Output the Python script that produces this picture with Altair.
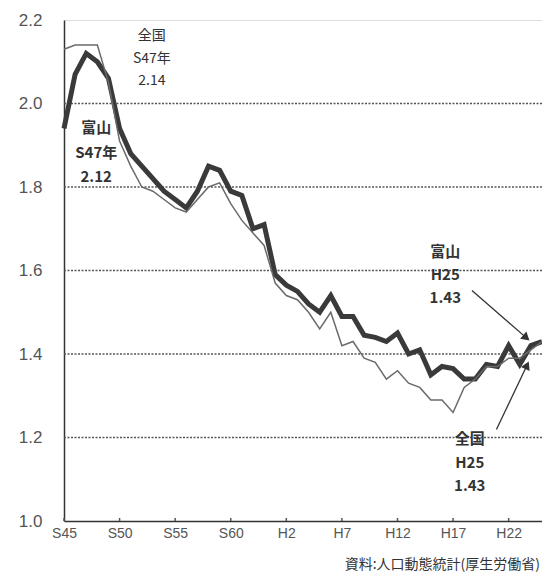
import altair as alt
import pandas as pd

FONT = "Noto Sans CJK JP"
NUMFONT = "Liberation Sans"

years = list(range(1970, 2014))
toyama = [1.94, 2.07, 2.12, 2.10, 2.06, 1.94, 1.88, 1.85, 1.82, 1.79,
          1.77, 1.75, 1.79, 1.85, 1.84, 1.79, 1.78, 1.70, 1.71, 1.59,
          1.565, 1.55, 1.52, 1.50, 1.54, 1.49, 1.49, 1.445, 1.44, 1.43,
          1.45, 1.40, 1.41, 1.35, 1.37, 1.365, 1.34, 1.34, 1.375, 1.37,
          1.42, 1.375, 1.42, 1.43]
zenkoku = [2.13, 2.14, 2.14, 2.14, 2.05, 1.91, 1.85, 1.80, 1.79, 1.77,
           1.75, 1.74, 1.77, 1.80, 1.81, 1.76, 1.72, 1.69, 1.66, 1.57,
           1.54, 1.53, 1.50, 1.46, 1.50, 1.42, 1.43, 1.39, 1.38, 1.34,
           1.36, 1.33, 1.32, 1.29, 1.29, 1.26, 1.32, 1.34, 1.37, 1.37,
           1.39, 1.39, 1.41, 1.43]

tick_years = [1970, 1975, 1980, 1985, 1990, 1995, 2000, 2005, 2010]
tick_labels = ["S45", "S50", "S55", "S60", "H2", "H7", "H12", "H17", "H22"]
grid_values = [1.2, 1.4, 1.6, 1.8, 2.0]
caption = ["資料:人口動態統計(厚生労働省)"]

# annotation texts
ann_text = ["全国", "S47年", "2.14",
            "富山", "S47年", "2.12",
            "富山", "H25", "1.43",
            "全国", "H25", "1.43"]
ann_x = [1977.9, 1977.9, 1977.9,
         1972.9, 1972.9, 1972.9,
         2004.3, 2004.3, 2004.3,
         2006.5, 2006.5, 2006.5]
ann_y = [2.162, 2.107, 2.055,
         1.942, 1.882, 1.825,
         1.644, 1.589, 1.533,
         1.197, 1.138, 1.083]
ann_bold = [False, False, False,
            True, True, True,
            True, True, True,
            True, True, True]

# arrows (from label to line end)
arrow_x1 = [2006.7, 2008.9]
arrow_y1 = [1.552, 1.219]
arrow_x2 = [2011.5, 2011.6]
arrow_y2 = [1.441, 1.37]
arrow_angle = [131, 25]

W, H = 478, 501

df = pd.DataFrame({"year": years, "富山": toyama, "全国": zenkoku})
long = df.melt("year", var_name="area", value_name="tfr")

label_expr = " : ".join(
    f"datum.value == {y} ? '{l}'" for y, l in zip(tick_years, tick_labels)
) + " : ''"

xscale = alt.Scale(domain=[1970, 2013], nice=False, zero=False)
yscale = alt.Scale(domain=[1.0, 2.2], nice=False, zero=False)

base = alt.Chart(long)

grid = alt.Chart(pd.DataFrame({"g": grid_values})).mark_rule(
    color="#555", strokeDash=[2, 1.5], strokeWidth=1.3
).encode(y=alt.Y("g:Q", scale=yscale))

ticks = alt.Chart(pd.DataFrame({"t": tick_years})).mark_rule(
    color="#555", strokeWidth=1.5
).encode(
    x=alt.X("t:Q", scale=xscale),
    y=alt.value(H - 3),
    y2=alt.value(H),
)

lines = base.mark_line(strokeJoin="miter").encode(
    x=alt.X("year:Q", scale=xscale,
            axis=alt.Axis(values=tick_years, labelExpr=label_expr, title=None,
                          grid=False, ticks=False, domainColor="#333",
                          domainWidth=1.5, labelFont=NUMFONT, labelFontSize=14,
                          labelColor="#555", labelPadding=5,
                          labelFlush=False)),
    y=alt.Y("tfr:Q", scale=yscale,
            axis=alt.Axis(values=[1.0, 1.2, 1.4, 1.6, 1.8, 2.0, 2.2],
                          format=".1f", title=None, grid=False, ticks=False,
                          domainColor="#333", domainWidth=1.5,
                          labelFont=NUMFONT, labelFontSize=17, labelColor="#555",
                          labelPadding=22)),
    color=alt.Color("area:N", scale=alt.Scale(domain=["富山", "全国"],
                                               range=["#3a3a3a", "#6a6a6a"]),
                    legend=None),
    strokeWidth=alt.StrokeWidth("area:N", scale=alt.Scale(domain=["富山", "全国"],
                                                            range=[5, 1.5]),
                                legend=None),
    order=alt.Order("year:Q"),
)

ann_df = pd.DataFrame({"text": ann_text, "x": ann_x, "y": ann_y,
                       "bold": ann_bold})
ann_normal = alt.Chart(ann_df[~ann_df["bold"]]).mark_text(
    font=FONT, fontSize=14, color="#333"
).encode(x=alt.X("x:Q", scale=xscale), y=alt.Y("y:Q", scale=yscale),
         text="text:N")
ann_bold_c = alt.Chart(ann_df[ann_df["bold"]]).mark_text(
    font=FONT, fontSize=15, fontWeight="bold", color="#333"
).encode(x=alt.X("x:Q", scale=xscale), y=alt.Y("y:Q", scale=yscale),
         text="text:N")

arr_df = pd.DataFrame({"x1": arrow_x1, "y1": arrow_y1, "x2": arrow_x2,
                       "y2": arrow_y2, "angle": arrow_angle})
arrow_lines = alt.Chart(arr_df).mark_rule(color="#333", strokeWidth=1.3).encode(
    x=alt.X("x1:Q", scale=xscale), y=alt.Y("y1:Q", scale=yscale),
    x2="x2:Q", y2="y2:Q")
arrow_heads = alt.Chart(arr_df).mark_point(
    shape="triangle", filled=True, color="#333", size=90, opacity=1
).encode(x=alt.X("x2:Q", scale=xscale), y=alt.Y("y2:Q", scale=yscale),
         angle=alt.Angle("angle:Q", scale=None))

cap = alt.Chart(pd.DataFrame({"c": caption})).mark_text(
    font=FONT, fontSize=14, color="#333", align="right",
    baseline="alphabetic"
).encode(x=alt.value(W - 2), y=alt.value(H + 48), text="c:N")

chart = alt.layer(grid, ticks, lines, ann_normal, ann_bold_c, arrow_lines,
                  arrow_heads, cap).properties(
    width=W, height=H,
    autosize=alt.AutoSizeParams(type="none"),
    padding={"left": 56, "top": 12, "right": 0, "bottom": 54},
).configure_view(stroke="#777", strokeWidth=1.5).configure(background="white")

chart.save("out.html", embed_options={"renderer": "svg", "actions": False})
